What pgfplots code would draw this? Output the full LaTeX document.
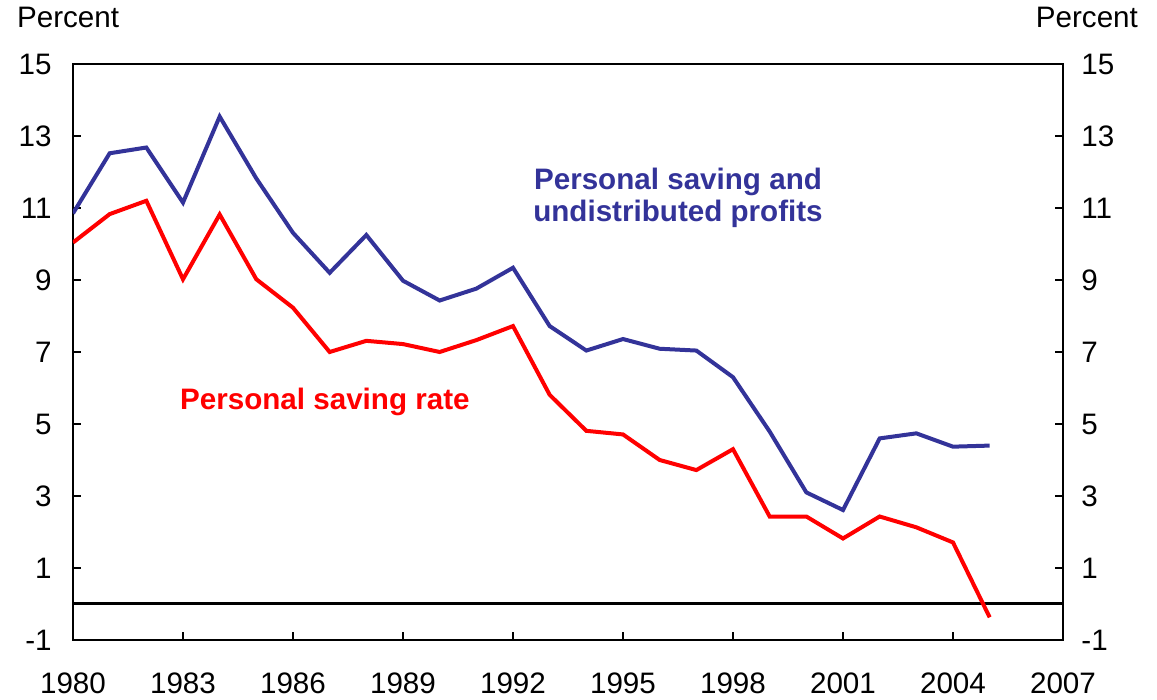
\documentclass[border=0pt]{standalone}
\usepackage{pgfplots}
\pgfplotsset{compat=1.18}
\usepackage{fontspec}
\setmainfont{Liberation Sans}
\definecolor{navy}{RGB}{51,51,153}
\definecolor{psred}{RGB}{255,0,0}

\pgfplotsset{
  common/.style={
    at={(0,0)}, anchor=south west,
    scale only axis, width=495pt, height=288pt,
    xmin=1980, xmax=2007, ymin=-1, ymax=15,
    ytick={-1,1,...,15},
    tick align=inside,
    major tick length=4pt,
    tick style={black, line width=0.8pt},
    axis line style={line width=1pt},
    /pgf/number format/assume math mode=true,
    /pgf/number format/1000 sep={},
    ticklabel style={font=\fontsize{14.8}{17}\selectfont, inner sep=0pt},
  }
}

\begin{document}
\begin{tikzpicture}
\useasboundingbox (-36.5pt,-30pt) rectangle (542pt,320pt);

\begin{axis}[
  common,
  xtick={1980,1983,...,2007},
  xtick pos=bottom,
  ytick pos=left,
  xticklabel style={anchor=north, yshift=-16pt},
  yticklabel style={anchor=east, xshift=-10.5pt},
]
  % zero line
  \addplot[black, line width=1.5pt] coordinates {(1980,0) (2007,0)};

  % personal saving and undistributed profits
  \addplot[navy, line width=2pt] coordinates {
    (1980,10.85) (1981,12.52) (1982,12.68) (1983,11.15) (1984,13.54)
    (1985,11.82) (1986,10.31) (1987,9.20) (1988,10.25) (1989,8.98)
    (1990,8.43) (1991,8.76) (1992,9.34) (1993,7.72) (1994,7.04)
    (1995,7.36) (1996,7.09) (1997,7.04) (1998,6.30) (1999,4.79)
    (2000,3.10) (2001,2.61) (2002,4.60) (2003,4.74) (2004,4.37)
    (2005,4.40)
  };

  % personal saving rate
  \addplot[psred, line width=2pt] coordinates {
    (1980,10.04) (1981,10.83) (1982,11.20) (1983,9.02) (1984,10.82)
    (1985,9.02) (1986,8.23) (1987,7.00) (1988,7.31) (1989,7.22)
    (1990,7.00) (1991,7.33) (1992,7.72) (1993,5.81) (1994,4.81)
    (1995,4.71) (1996,4.00) (1997,3.72) (1998,4.30) (1999,2.43)
    (2000,2.43) (2001,1.82) (2002,2.43) (2003,2.13) (2004,1.71)
    (2005,-0.37)
  };

  \node[navy, font=\fontsize{14.8}{16}\selectfont\bfseries, align=center]
    at (axis cs:1996.5,11.28) {Personal saving and\\undistributed profits};
  \node[psred, font=\fontsize{14.8}{16}\selectfont\bfseries]
    at (axis cs:1986.87,5.61) {Personal saving rate};
\end{axis}

\begin{axis}[
  common,
  axis x line=none,
  axis y line*=right,
  yticklabel style={anchor=west, xshift=9pt},
]
\end{axis}

\node[anchor=base west, font=\fontsize{14.8}{17}\selectfont] at (-31.5pt,306pt) {Percent};
\node[anchor=base east, font=\fontsize{14.8}{17}\selectfont] at (536pt,306pt) {Percent};
\end{tikzpicture}
\end{document}
